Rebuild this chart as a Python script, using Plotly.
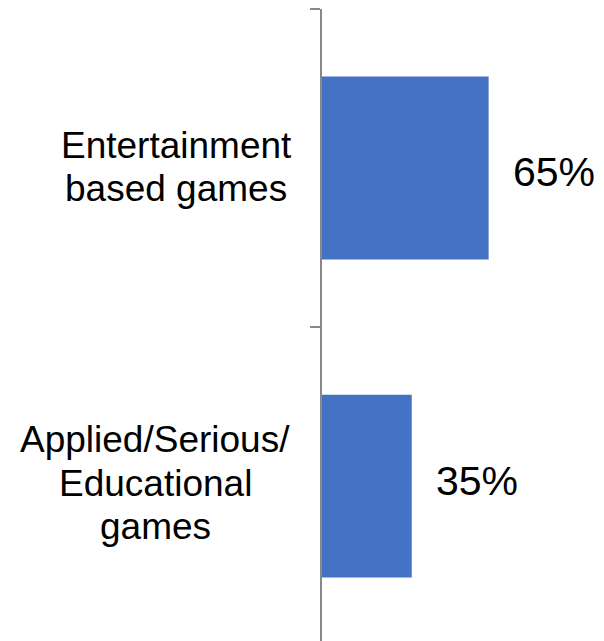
import plotly.graph_objects as go

categories = ["Applied/Serious/<br>Educational<br>games", "Entertainment<br>based games"]
values = [35, 65]
value_labels = ["35%", "65%"]

BAR_COLOR = "#4472C4"
FONT = "Liberation Sans, Arial, sans-serif"
LABEL_CENTER_SHIFT = {categories[0]: -167, categories[1]: -146}
LABEL_YSHIFT = {categories[0]: 3, categories[1]: 1}
VALUE_YSHIFT = {categories[0]: 5, categories[1]: -4}
LINE_STEP = 43.5

fig = go.Figure()
fig.add_trace(go.Bar(
    x=values,
    y=categories,
    orientation="h",
    marker=dict(color=BAR_COLOR, line=dict(width=0)),
    hoverinfo="skip",
))

annotations = []
for cat, val, lab in zip(categories, values, value_labels):
    annotations.append(dict(
        x=val, y=cat, xref="x", yref="y", text=lab, showarrow=False,
        xanchor="left", yanchor="middle", xshift=22, yshift=VALUE_YSHIFT[cat],
        font=dict(family=FONT, size=41, color="black"),
    ))
    lines = cat.split("<br>")
    mid = (len(lines) - 1) / 2
    for i, line in enumerate(lines):
        annotations.append(dict(
            x=0, y=cat, xref="paper", yref="y", text=line, showarrow=False,
            xanchor="center", yanchor="middle",
            xshift=LABEL_CENTER_SHIFT[cat], yshift=(mid - i) * LINE_STEP + LABEL_YSHIFT[cat],
            font=dict(family=FONT, size=37, color="black"),
        ))

fig.update_layout(
    width=604, height=641,
    margin=dict(l=322, r=0, t=9, b=0),
    paper_bgcolor="white", plot_bgcolor="white",
    bargap=0.425,
    showlegend=False,
    annotations=annotations,
    xaxis=dict(range=[0, 110], visible=False, fixedrange=True),
    yaxis=dict(
        type="category",
        categoryorder="array", categoryarray=categories,
        range=[-0.487, 1.5],
        showticklabels=False,
        showline=True, linecolor="#898989", linewidth=2,
        ticks="outside", tickson="boundaries", ticklen=10,
        tickcolor="#898989", tickwidth=2,
        showgrid=False, zeroline=False,
    ),
)

fig.write_html("out.html")
